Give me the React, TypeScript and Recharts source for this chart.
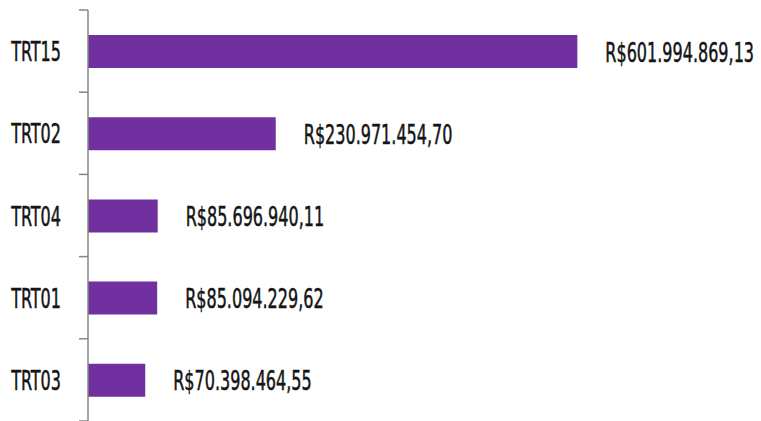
import React from 'react';
import { BarChart, Bar, XAxis, YAxis, LabelList } from 'recharts';

const tribunais = ['TRT15', 'TRT02', 'TRT04', 'TRT01', 'TRT03'];
const valores = [601994869.13, 230971454.7, 85696940.11, 85094229.62, 70398464.55];

const data = tribunais.map((name, i) => ({ name, valor: valores[i] }));

const FONT = '"DejaVu Sans Condensed", "DejaVu Sans", sans-serif';
const SCALE_X = 0.66;
const WIDTH = 761;
const HEIGHT = 421;
const TOP = 10;
const BOTTOM = 0;

function formatBRL(v: number) {
    const [int, dec] = v.toFixed(2).split('.');
    const withDots = int.replace(/\B(?=(\d{3})+(?!\d))/g, '.');
    return `R$${withDots},${dec}`;
}

const band = (HEIGHT - TOP - BOTTOM) / tribunais.length;

// tall narrow text, like the condensed face used in the original
function NarrowText({ x, y, anchor, children }: any) {
    return (
        <text
            x={0}
            y={0}
            dy={10}
            textAnchor={anchor}
            transform={`translate(${x},${y}) scale(${SCALE_X},1)`}
            fontFamily={FONT}
            fontStretch="condensed"
            fontSize={27}
            stroke="#151515"
            strokeWidth={0.5}
            fill="#151515"
        >
            {children}
        </text>
    );
}

function CategoryTick(props: any) {
    const { x, y, payload, index } = props;
    const isLast = index === tribunais.length - 1;
    return (
        <g>
            <line x1={x - 9} x2={x} y1={y - band / 2} y2={y - band / 2} stroke="#868686" strokeWidth={1.5} />
            {isLast && (
                <line x1={x - 9} x2={x} y1={y + band / 2} y2={y + band / 2} stroke="#868686" strokeWidth={1.5} />
            )}
            <NarrowText x={x - 27} y={y} anchor="end">{payload.value}</NarrowText>
        </g>
    );
}

function ValueLabel(props: any) {
    const { x, y, width, height, value } = props;
    return (
        <NarrowText x={x + width + 28} y={y + height / 2} anchor="start">
            {formatBRL(Number(value))}
        </NarrowText>
    );
}

export default function App() {
    return (
        <div style={{ position: 'absolute', left: 0, top: 0, background: '#fff' }}>
            <BarChart
                width={WIDTH}
                height={HEIGHT}
                data={data}
                layout="vertical"
                margin={{ top: TOP, right: 104, bottom: BOTTOM, left: 0 }}
            >
                <XAxis type="number" domain={[0, 700000000]} hide />
                <YAxis
                    type="category"
                    dataKey="name"
                    width={88}
                    tickSize={0}
                    tickMargin={0}
                    tickLine={false}
                    axisLine={{ stroke: '#868686', strokeWidth: 1.5 }}
                    tick={<CategoryTick />}
                    interval={0}
                />
                <Bar dataKey="valor" fill="#7030A0" barSize={33} isAnimationActive={false}>
                    <LabelList dataKey="valor" content={<ValueLabel />} />
                </Bar>
            </BarChart>
        </div>
    );
}
